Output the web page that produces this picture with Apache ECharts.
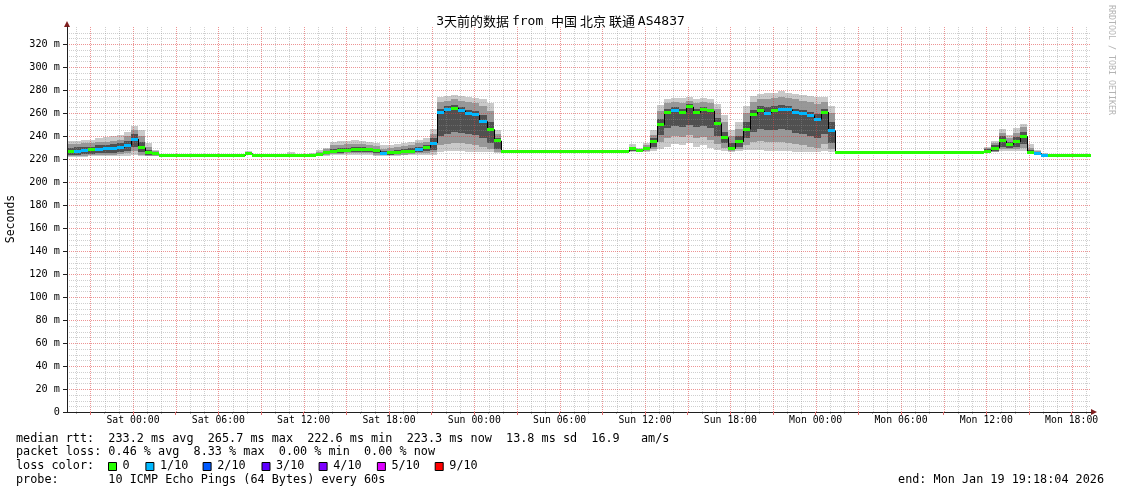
<!DOCTYPE html>
<html>
<head>
<meta charset="utf-8">
<title>SmokePing 3 days</title>
<script src="https://cdn.jsdelivr.net/npm/echarts@6.0.0/dist/echarts.min.js"></script>
<style>
html,body{margin:0;padding:0;background:#ffffff;}
#chart{width:1121px;height:494px;}
</style>
</head>
<body>
<div id="chart"></div>
<script>
// ================= DATA =================
// x values are hours relative to Sat 00:00; window = Fri 19:18 .. Mon 19:18
const windowStart = -4.64;
const windowEnd = 67.36;
const slotHours = 0.5;

const tickLabels = ['Sat 00:00','Sat 06:00','Sat 12:00','Sat 18:00','Sun 00:00','Sun 06:00',
                    'Sun 12:00','Sun 18:00','Mon 00:00','Mon 06:00','Mon 12:00','Mon 18:00'];
const tickHours = [0, 6, 12, 18, 24, 30, 36, 42, 48, 54, 60, 66];
const yTickValues = [0,20,40,60,80,100,120,140,160,180,200,220,240,260,280,300,320];

// median RTT (ms) per 30-minute slot
const median = [
  226.5,227,227.5,228,228.5,229,229.5,230,232,237.5,230,225.5,224.5,
  223,223,223,223,223,223,223,223,223,223,223,223,
  225,
  223,223,223,223,223,
  223.3,
  223,223,
  223.5,224.3,225.5,227,227.3,227.8,228.3,228.5,228,227.5,225,225.5,226,226.5,227,228.5,230,234,
  261,263.5,264.5,262,259.7,258.5,253,246,236,
  226.5,226.5,226.5,226.5,226.5,226.5,226.5,226.5,226.5,226.5,226.5,226.5,226.5,226.5,226.5,226.5,226.5,226.5,
  229,227.5,229.5,235,250,261,262,261,265.5,260.5,263,262,251,239,229,235,246,259,262,260,262,263.5,263,261,259.5,258,254.5,261,245,
  225.8,225.8,225.8,225.8,225.8,225.8,225.8,225.8,225.8,225.8,225.8,225.8,225.8,225.8,225.8,225.8,225.8,225.8,225.8,225.8,225.8,
  227,229.5,236,232.5,235,240,226,225,223.5,
  223.3,223.3,223.3,223.3,223.3,223.3
];

// lost pings (out of 10) per slot
const lossCount = [
  0,1,1,0,1,1,1,1,1,1,0,0,
  0,0,0,0,0,0,0,0,0,0,0,0,
  0,0,0,0,0,0,0,0,0,0,0,0,
  0,0,0,0,0,0,0,0,1,0,0,0,
  0,1,0,1,1,1,0,1,1,1,1,0,
  0,0,0,0,0,0,0,0,0,0,0,0,
  0,0,0,0,0,0,0,0,0,0,0,0,
  0,1,0,0,0,0,0,0,0,0,0,0,
  0,0,1,0,1,1,1,1,1,1,0,1,
  0,0,0,0,0,0,0,0,0,0,0,0,
  0,0,0,0,0,0,0,0,0,0,0,0,
  0,0,0,0,1,1,0,0,0,0,0,0
];

// smoke: sorted ping spread per slot (outer low/high, mid low/high, dark core low/high)
const smokeLo = [
  222,222,222,222.5,222.5,222.5,222.5,223,223,224,223,222.5,222.5,
  223,223,223,223,223,223,223,223,223,223,223,223,
  224,
  223,223,223,223,223,
  223,
  223,223,
  223,223,223,223.5,223.5,223.5,224,224,223.5,223,223,223,223,223.5,223.5,224,224,224,
  226,227,227,227,226.5,226.5,226.5,226,225.5,
  226.5,226.5,226.5,226.5,226.5,226.5,226.5,226.5,226.5,226.5,226.5,226.5,226.5,226.5,226.5,226.5,226.5,226.5,
  226.5,226.5,226.5,227,229,231,233,232,234,231,232,230,228,227,226,227,228,228,228,227.5,227,227,227,226.5,226.5,226.5,226.5,227,226,
  225.8,225.8,225.8,225.8,225.8,225.8,225.8,225.8,225.8,225.8,225.8,225.8,225.8,225.8,225.8,225.8,225.8,225.8,225.8,225.8,225.8,
  225.5,226,227,227,227,227,224.5,223.5,223,
  223.3,223.3,223.3,223.3,223.3,223.3
];
const smokeMidLo = [
  223,223,223,223.5,223.5,224,224,224.5,225,227,224,223,223,
  223,223,223,223,223,223,223,223,223,223,223,223,
  224.5,
  223,223,223,223,223,
  223,
  223,223,
  223,223.5,224,224.5,224.5,225,225,225,225,224,223.5,223.5,224,224,224.5,225,225.5,226,
  232,233,234,234,233,232,231,229,226.5,
  226.5,226.5,226.5,226.5,226.5,226.5,226.5,226.5,226.5,226.5,226.5,226.5,226.5,226.5,226.5,226.5,226.5,226.5,
  227,226.5,227,229,235,238,240,239,241,238,239,237,233,230,227,229,232,235,236,235,235,235,234,233,232,231,230,233,229,
  225.8,225.8,225.8,225.8,225.8,225.8,225.8,225.8,225.8,225.8,225.8,225.8,225.8,225.8,225.8,225.8,225.8,225.8,225.8,225.8,225.8,
  226,226.5,229,228.5,229,230,225,224,223,
  223.3,223.3,223.3,223.3,223.3,223.3
];
const smokeDarkLo = [
  224,224,224.5,224.5,225,225.5,225.5,226,227.5,231,226,224,223.5,
  223,223,223,223,223,223,223,223,223,223,223,223,
  225,
  223,223,223,223,223,
  223,
  223,223,
  223.3,224,224.5,225.5,225.5,226,226.5,226.5,226,225,224,224,224.5,225,225.5,226.5,227,228,
  240,242,244,243,242,241,238,234,229,
  226.5,226.5,226.5,226.5,226.5,226.5,226.5,226.5,226.5,226.5,226.5,226.5,226.5,226.5,226.5,226.5,226.5,226.5,
  227.5,227,228,231,241,247,249,248,250,248,249,247,240,234,228,231,238,244,246,245,245,246,245,243,242,240,238,242,234,
  225.8,225.8,225.8,225.8,225.8,225.8,225.8,225.8,225.8,225.8,225.8,225.8,225.8,225.8,225.8,225.8,225.8,225.8,225.8,225.8,225.8,
  226.5,227.5,231,230,231,233,225.5,224.5,223.3,
  223.3,223.3,223.3,223.3,223.3,223.3
];
const smokeDarkHi = [
  230,230.5,231,231,232,232,233,234,236,242,235,228,226,
  223,223,223,223,223,223,223,223,223,223,223,223,
  226,
  223,223,223,223,223,
  223.5,
  223,223,
  224,225,227,229,229.5,230,230.5,230.5,230,229,227,227.5,228,229,230,231,232.5,238,
  264,266,267,265,263,262,258,252,238,
  226.5,226.5,226.5,226.5,226.5,226.5,226.5,226.5,226.5,226.5,226.5,226.5,226.5,226.5,226.5,226.5,226.5,226.5,
  230,228.5,231,238,255,264,265,264,268,264,265,264,256,244,234,240,252,263,266,265,266,267,266,264,263,261,259,264,252,
  225.8,225.8,225.8,225.8,225.8,225.8,225.8,225.8,225.8,225.8,225.8,225.8,225.8,225.8,225.8,225.8,225.8,225.8,225.8,225.8,225.8,
  228.5,232,240,235,239,244,228,226,224,
  223.3,223.3,223.3,223.3,223.3,223.3
];
const smokeMidHi = [
  233,233.5,234,234.5,235,235,236,237,240,245,240,231,227,
  223,223,223,223,223,223,223,223,223,223,223,223,
  226.5,
  223,223,223,223,223,
  224,
  223,223,
  224.5,226,228.5,232,232.5,233,233.5,233,232.5,231.5,229,229.5,230.5,231.5,232.5,234,235,242,
  270,271,272,271,270,269,266,262,242,
  226.5,226.5,226.5,226.5,226.5,226.5,226.5,226.5,226.5,226.5,226.5,226.5,226.5,226.5,226.5,226.5,226.5,226.5,
  231,229,232,241,262,269,270,269,271,269,270,269,264,252,240,246,260,270,272,272,273,274,273,272,271,270,268,270,260,
  225.8,225.8,225.8,225.8,225.8,225.8,225.8,225.8,225.8,225.8,225.8,225.8,225.8,225.8,225.8,225.8,225.8,225.8,225.8,225.8,225.8,
  229.5,234,243,238,243,248,230,227,224.5,
  223.3,223.3,223.3,223.3,223.3,223.3
];
const smokeHi = [
  236,236,237,237,238,239,240,241,244,249,245,234,228,
  223,223,223,223,223,223,223,223,223,223,223,223,
  227,
  223,223,223,223,223,
  226,
  223,223,
  225,228,230,235,235.5,236,236.5,236,235,234,232,232,233,234,235,237,238,246,
  274,275,276,275,274,273,272,269,245,
  226.5,226.5,226.5,226.5,226.5,226.5,226.5,226.5,226.5,226.5,226.5,226.5,226.5,226.5,226.5,226.5,226.5,226.5,
  233,230,234,245,267,272,273,273,274,272,273,272,268,258,245,252,266,275,277,278,278,279,278,277,276,275,274,274,266,
  225.8,225.8,225.8,225.8,225.8,225.8,225.8,225.8,225.8,225.8,225.8,225.8,225.8,225.8,225.8,225.8,225.8,225.8,225.8,225.8,225.8,
  231,236,246,241,247,251,233,228,225.5,
  223.3,223.3,223.3,223.3,223.3,223.3
];

const lossLevels = [0, 1, 2, 3, 4, 5, 9];
const lossLabels = ['0', '1/10', '2/10', '3/10', '4/10', '5/10', '9/10'];
const lossColors = ['#26ff00', '#00b8ff', '#0059ff', '#5e00ff', '#7e00ff', '#dd00ff', '#ff0000'];

const statLines = [
  'median rtt:  233.2 ms avg  265.7 ms max  222.6 ms min  223.3 ms now  13.8 ms sd  16.9   am/s',
  'packet loss: 0.46 % avg  8.33 % max  0.00 % min  0.00 % now',
  'loss color:',
  'probe:       10 ICMP Echo Pings (64 Bytes) every 60s'
];
const endText = 'end: Mon Jan 19 19:18:04 2026';
const yAxisName = 'Seconds';
const watermark = 'RRDTOOL / TOBI OETIKER';

// ================= CHECK =================
[smokeLo, smokeMidLo, smokeDarkLo, smokeDarkHi, smokeMidHi, smokeHi, lossCount].forEach((a, k) => {
  if (a.length !== median.length) throw new Error('length mismatch ' + k + ': ' + a.length + ' vs ' + median.length);
});

// ================= BUILD =================
const MONO = "'DejaVu Sans Mono', monospace";
const CJK = "'Noto Sans CJK SC'";
const GREY = 'rgba(140,140,140,0.42)';
const RED = 'rgba(222,60,60,0.55)';

const allHours = [];
for (let h = Math.ceil(windowStart); h < windowEnd; h++) allHours.push(h);
const threeHourLines = allHours.filter(h => ((h % 3) + 3) % 3 === 0);
const hourLines = allHours.filter(h => ((h % 3) + 3) % 3 !== 0);

// grid line values: [value, isMajor]
const vGrid = allHours.map(h => [h, ((h % 3) + 3) % 3 === 0 ? 1 : 0]);
const hGrid = [];
for (let v = 5; v <= 330; v += 5) hGrid.push([v, v % 20 === 0 ? 1 : 0]);

const smokeData = median.map((m, i) => [
  windowStart + i * slotHours, windowStart + (i + 1) * slotHours,
  smokeLo[i], smokeMidLo[i], smokeDarkLo[i], smokeDarkHi[i], smokeMidHi[i], smokeHi[i]
]);
const medianData = median.map((m, i) => [
  windowStart + i * slotHours, windowStart + (i + 1) * slotHours,
  m, lossCount[i], i > 0 ? median[i - 1] : m
]);

function renderVGrid(params, api) {
  const cs = params.coordSys;
  const x = Math.round(api.coord([api.value(0), 0])[0]) + 0.5;
  const major = api.value(1) === 1;
  return {type: 'line', shape: {x1: x, y1: cs.y, x2: x, y2: cs.y + cs.height},
          style: {stroke: major ? RED : GREY, lineWidth: 1, lineDash: [1, 1]}};
}
function renderHGrid(params, api) {
  const cs = params.coordSys;
  const y = Math.round(api.coord([windowStart, api.value(0)])[1]) + 0.5;
  const major = api.value(1) === 1;
  return {type: 'line', shape: {x1: cs.x, y1: y, x2: cs.x + cs.width, y2: y},
          style: {stroke: major ? RED : GREY, lineWidth: 1, lineDash: [1, 1]}};
}

function renderSmoke(params, api) {
  const xa = api.value(0), xb = api.value(1);
  const px0 = Math.round(api.coord([xa, 0])[0]);
  const px1 = Math.round(api.coord([xb, 0])[0]);
  const bands = [[2, 7, '#cacaca'], [3, 6, '#989898'], [4, 5, '#505050']];
  const children = [];
  bands.forEach(([a, b, col]) => {
    const ya = Math.round(api.coord([xa, api.value(a)])[1]);
    const yb = Math.round(api.coord([xa, api.value(b)])[1]);
    if (ya - yb > 0) {
      children.push({type: 'rect', shape: {x: px0, y: yb, width: px1 - px0, height: ya - yb},
                     style: {fill: col}});
    }
  });
  return {type: 'group', children};
}

function renderMedian(params, api) {
  const xa = api.value(0), xb = api.value(1);
  const m = api.value(2), l = api.value(3), prev = api.value(4);
  const px0 = Math.round(api.coord([xa, m])[0]);
  const px1 = Math.round(api.coord([xb, m])[0]);
  const py = api.coord([xa, m])[1];
  const pp = api.coord([xa, prev])[1];
  const children = [];
  if (Math.abs(pp - py) > 0.5) {
    children.push({type: 'line', shape: {x1: px0 + 0.5, y1: pp, x2: px0 + 0.5, y2: py},
                   style: {stroke: '#000000', lineWidth: 1}});
  }
  const idx = lossLevels.indexOf(l);
  children.push({type: 'rect', shape: {x: px0, y: Math.round(py - 1.5), width: px1 - px0, height: 3},
                 style: {fill: lossColors[idx < 0 ? 0 : idx]}});
  return {type: 'group', children};
}

const xBase = {type: 'value', min: windowStart, max: windowEnd, position: 'bottom', gridIndex: 0};
const yBase = {type: 'value', min: 0, max: 335, interval: 20, position: 'left', gridIndex: 0};
const hidden = {axisLine: {show: false}, axisLabel: {show: false}, splitLine: {show: false}};

const graphic = [];
const lineCenters = [438.5, 452.3, 466.3, 480.3];
statLines.forEach((t, k) => {
  graphic.push({type: 'text', x: 16, y: lineCenters[k], silent: true,
    style: {text: t, font: "11.8px 'DejaVu Sans Mono'", fill: '#000', align: 'left', verticalAlign: 'middle',
            textAlign: 'left', textVerticalAlign: 'middle'}});
});
const boxX = [108.5, 145.9, 203.1, 262, 319.1, 377.4, 435.2];
const boxTextX = [122.5, 160, 217.2, 276, 333.2, 391.4, 449.3];
lossLabels.forEach((lab, k) => {
  graphic.push({type: 'rect', silent: true, shape: {x: boxX[k], y: 462.5, width: 8, height: 8},
    style: {fill: lossColors[k], stroke: '#000', lineWidth: 1}});
  graphic.push({type: 'text', x: boxTextX[k], y: lineCenters[2], silent: true,
    style: {text: lab, font: "11.8px 'DejaVu Sans Mono'", fill: '#000', align: 'left', verticalAlign: 'middle',
            textAlign: 'left', textVerticalAlign: 'middle'}});
});
graphic.push({type: 'text', x: 1104, y: lineCenters[3], silent: true,
  style: {text: endText, font: "11.8px 'DejaVu Sans Mono'", fill: '#000', align: 'right', verticalAlign: 'middle',
          textAlign: 'right', textVerticalAlign: 'middle'}});
graphic.push({type: 'text', x: 11, y: 219, rotation: Math.PI / 2, silent: true,
  style: {text: yAxisName, font: "11.5px 'DejaVu Sans Mono'", fill: '#000', align: 'center', verticalAlign: 'middle',
          textAlign: 'center', textVerticalAlign: 'middle'}});
graphic.push({type: 'text', x: 1111.5, y: 60, rotation: -Math.PI / 2, silent: true,
  style: {text: watermark, font: "8.3px 'DejaVu Sans Mono'", fill: '#b4b4b4', align: 'center', verticalAlign: 'middle',
          textAlign: 'center', textVerticalAlign: 'middle'}});

const option = {
  animation: false,
  backgroundColor: '#ffffff',
  title: {
    text: '{m|3}{c|天前的数据 }{m|from }{c|中国 北京 联通 }{m|AS4837}',
    left: 'center', top: 14, padding: 0,
    textStyle: {
      fontWeight: 'normal',
      rich: {
        m: {fontFamily: MONO, fontSize: 13, fontWeight: 'normal', color: '#000', lineHeight: 15},
        c: {fontFamily: CJK, fontSize: 13, fontWeight: 'normal', color: '#000', lineHeight: 15}
      }
    }
  },
  grid: {left: 67, right: 30, top: 27, bottom: 82, containLabel: false, outerBoundsMode: 'none'},
  xAxis: [
    Object.assign({}, xBase, {
      z: 6,
      axisLine: {show: true, onZero: false, lineStyle: {color: '#1f1f1f', width: 1}},
      axisTick: {show: true, customValues: threeHourLines, length: 3, lineStyle: {color: '#e07070'}},
      axisLabel: {show: true, customValues: tickHours, margin: 3, fontFamily: MONO, fontSize: 9.8, color: '#000',
                  formatter: v => tickLabels[tickHours.indexOf(Math.round(v))] || ''},
      splitLine: {show: false}
    }),
    Object.assign({}, xBase, hidden, {
      axisTick: {show: true, customValues: hourLines, length: 2, lineStyle: {color: '#b0b0b0'}}
    }),
    Object.assign({}, xBase, hidden, {
      z: 5,
      axisTick: {show: false},
      axisLine: {show: true, onZero: false, symbol: ['none', 'triangle'], symbolSize: [6, 6], symbolOffset: [0, 3],
                 lineStyle: {color: '#801f1f', width: 1}}
    })
  ],
  yAxis: [
    Object.assign({}, yBase, {
      z: 6,
      axisLine: {show: true, onZero: false, lineStyle: {color: '#1f1f1f', width: 1}},
      axisTick: {show: true, customValues: yTickValues, length: 4, lineStyle: {color: '#1f1f1f'}},
      axisLabel: {show: true, customValues: yTickValues, margin: 7, fontFamily: MONO, fontSize: 10.2, color: '#000',
                  formatter: v => (v === 0 ? '0' : v + ' m')},
      splitLine: {show: false}
    }),
    Object.assign({}, yBase, hidden, {
      z: 5,
      axisTick: {show: false},
      axisLine: {show: true, onZero: false, symbol: ['none', 'triangle'], symbolSize: [6, 6], symbolOffset: [0, 3],
                 lineStyle: {color: '#801f1f', width: 1}}
    })
  ],
  series: [
    {
      type: 'custom', name: 'smoke', xAxisIndex: 0, yAxisIndex: 0, silent: true, z: 2,
      renderItem: renderSmoke, data: smokeData,
      encode: {x: [0, 1], y: [2, 3, 4, 5, 6, 7]}
    },
    {
      type: 'custom', name: 'vgrid', xAxisIndex: 0, yAxisIndex: 0, silent: true, z: 3,
      renderItem: renderVGrid, data: vGrid, encode: {x: 0, y: 1}
    },
    {
      type: 'custom', name: 'hgrid', xAxisIndex: 0, yAxisIndex: 0, silent: true, z: 3,
      renderItem: renderHGrid, data: hGrid, encode: {x: 1, y: 0}
    },
    {
      type: 'custom', name: 'median', xAxisIndex: 0, yAxisIndex: 0, silent: true, z: 4,
      renderItem: renderMedian, data: medianData,
      encode: {x: [0, 1], y: [2]}
    }
  ],
  graphic: graphic
};

const chart = echarts.init(document.getElementById('chart'), null, {renderer: 'canvas'});
chart.setOption(option);
</script>
</body>
</html>
